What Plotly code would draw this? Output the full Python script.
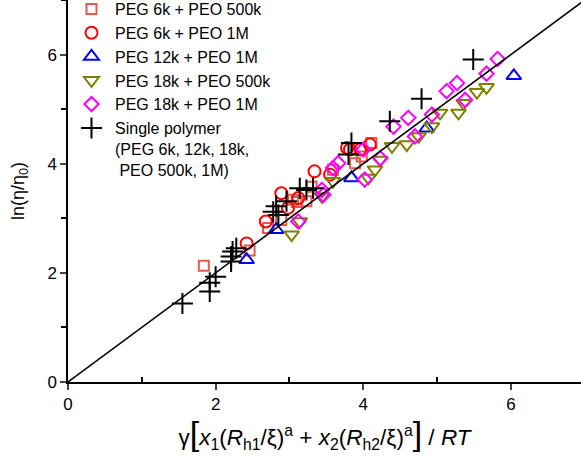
import plotly.graph_objects as go

# ---- data ----
sq_x = [1.84, 2.46, 2.71, 2.89, 3.05, 3.10, 3.23, 3.30, 3.59, 3.89, 3.98, 4.11]
sq_y = [2.13, 2.41, 2.82, 2.97, 3.34, 3.30, 3.31, 3.58, 3.89, 4.01, 4.13, 4.38]

ci_x = [2.42, 2.68, 2.89, 2.98, 3.12, 3.34, 3.55, 3.78, 3.82, 3.96, 4.09]
ci_y = [2.54, 2.94, 3.46, 3.19, 3.37, 3.86, 3.80, 4.29, 4.26, 4.26, 4.35]

tu_x = [2.42, 2.82, 3.84, 4.86, 6.04]
tu_y = [2.24, 2.79, 3.74, 4.65, 5.61]

td_x = [3.03, 3.14, 3.44, 3.59, 4.07, 4.16, 4.23, 4.39, 4.59, 4.75, 4.93, 5.04, 5.29, 5.36, 5.54, 5.67]
td_y = [2.70, 2.94, 3.40, 3.68, 3.74, 3.89, 4.07, 4.32, 4.35, 4.50, 4.68, 4.93, 4.93, 5.11, 5.31, 5.40]

di_x = [3.12, 3.44, 3.46, 3.59, 3.66, 4.00, 4.02, 4.23, 4.41, 4.61, 4.70, 4.93, 5.13, 5.27, 5.38, 5.67, 5.82]
di_y = [2.94, 3.52, 3.43, 3.92, 4.01, 4.26, 3.71, 4.10, 4.68, 4.84, 4.50, 4.90, 5.33, 5.48, 5.17, 5.65, 5.92]

cr_x = [1.55, 1.92, 1.92, 2.00, 2.21, 2.21, 2.23, 2.28, 2.78, 2.85, 2.82, 2.96,
        3.14, 3.23, 3.32, 3.80, 3.84, 4.36, 4.79, 5.49]
cr_y = [1.44, 1.66, 1.82, 1.93, 2.21, 2.30, 2.39, 2.45, 3.12, 3.06, 3.22, 3.31,
        3.55, 3.52, 3.55, 4.17, 4.38, 4.78, 5.19, 5.91]

fit_x = [0, 7]
fit_y = [0, 7]

names = ["PEG 6k + PEO 500k", "PEG 6k + PEO 1M", "PEG 12k + PEO 1M",
         "PEG 18k + PEO 500k", "PEG 18k + PEO 1M",
         "Single polymer<br>(PEG 6k, 12k, 18k,<br> PEO 500k, 1M)"]

FONT = "Arial, Liberation Sans, sans-serif"

fig = go.Figure()

def add(x, y, name, symbol, color, size):
    fig.add_trace(go.Scatter(
        x=x, y=y, mode="markers", name=name,
        marker=dict(symbol=symbol, size=size, color=color,
                    line=dict(color=color, width=2))))

add(sq_x, sq_y, names[0], "square-open", "#E8584A", 10)
add(ci_x, ci_y, names[1], "circle-open", "#FF0000", 12)
add(tu_x, tu_y, names[2], "triangle-up-open", "#0000FF", 13)
add(td_x, td_y, names[3], "triangle-down-open", "#808000", 13)
add(di_x, di_y, names[4], "diamond-open", "#FF00FF", 11)
add(cr_x, cr_y, names[5], "cross-thin-open", "#000000", 15)

fig.add_trace(go.Scatter(x=fit_x, y=fit_y, mode="lines", showlegend=False,
                         line=dict(color="black", width=1.5)))

xtitle = ("γ<span style='font-size:34px'>[</span><i>x</i><sub>1</sub>(<i>R</i><sub>h1</sub>/ξ)<sup>a</sup>"
          " + <i>x</i><sub>2</sub>(<i>R</i><sub>h2</sub>/ξ)<sup>a</sup>"
          "<span style='font-size:34px'>]</span> / <i>RT</i>")

fig.update_layout(
    width=581, height=461,
    margin=dict(l=68, r=0, t=0, b=79, autoexpand=False),
    plot_bgcolor="white", paper_bgcolor="white",
    font=dict(family=FONT, size=17, color="black"),
    showlegend=True,
    legend=dict(x=0.0, y=1.021, xanchor="left", yanchor="top",
                bgcolor="rgba(0,0,0,0)", font=dict(size=16),
                tracegroupgap=0, itemsizing="trace", itemwidth=37,
                valign="top"),
    xaxis=dict(range=[0, 6.95], tickvals=[0, 2, 4, 6], ticks="outside",
               ticklen=6, tickwidth=1.5, showline=True, linewidth=1.5,
               linecolor="black", showgrid=False, zeroline=False,
               automargin=False,
               minor=dict(tickvals=[1, 3, 5], ticks="inside", ticklen=5, tickwidth=1.5, tickcolor="black"),
               title=dict(text=xtitle, standoff=8, font=dict(size=22.5))),
    yaxis=dict(range=[0, 7], tickvals=[0, 2, 4, 6], ticks="outside",
               ticklen=6, tickwidth=1.5, showline=True, linewidth=1.5,
               linecolor="black", showgrid=False, zeroline=False,
               automargin=False,
               minor=dict(tickvals=[1, 3, 5, 7], ticks="outside", ticklen=5, tickwidth=1.5, tickcolor="black"),
               title=dict(text="ln(η/η<sub>0</sub>)", standoff=18, font=dict(size=18))),
)

fig.write_html("out.html", config={"displayModeBar": False},
               post_script="document.body.style.margin='0';document.body.style.overflow='hidden';")
